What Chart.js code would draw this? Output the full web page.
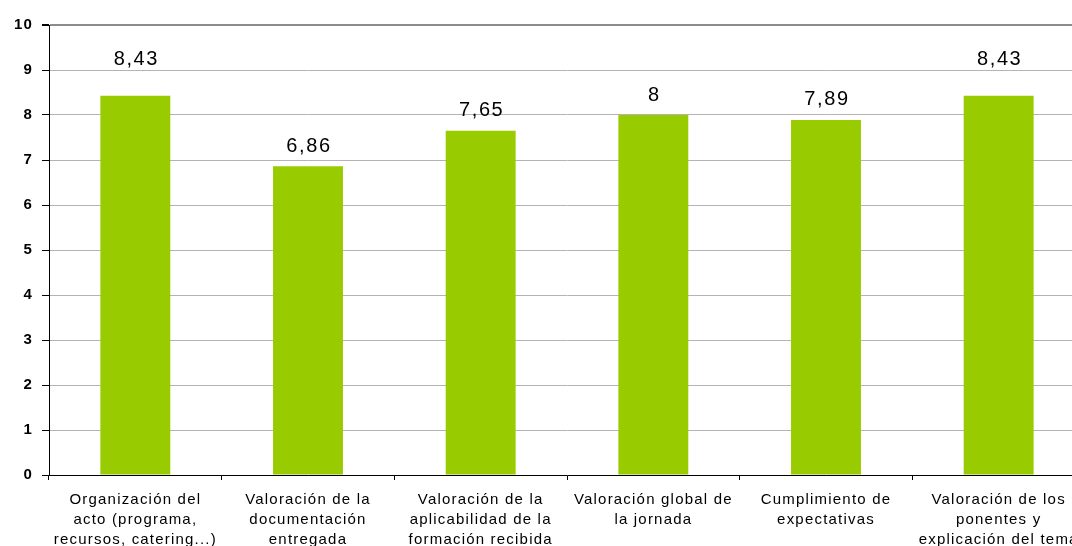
<!DOCTYPE html>
<html lang="es">
<head>
<meta charset="UTF-8">
<title>Valoración de la jornada</title>
<script src="https://cdn.jsdelivr.net/npm/chart.js"></script>
<style>
    html, body { margin: 0; padding: 0; background: #fff; overflow: hidden; }
    #wrap { width: 1086px; height: 546px; }
</style>
</head>
<body>
<div id="wrap"><canvas id="grafico" width="1086" height="546"></canvas></div>
<script>
    const categorias = [
        ['Organización del', 'acto (programa,', 'recursos, catering...)'],
        ['Valoración de la', 'documentación', 'entregada'],
        ['Valoración de la', 'aplicabilidad de la', 'formación recibida'],
        ['Valoración global de', 'la jornada'],
        ['Cumplimiento de', 'expectativas'],
        ['Valoración de los', 'ponentes y', 'explicación del tema']
    ];
    const valores = [8.43, 6.86, 7.65, 8, 7.89, 8.43];
    const ticksY = [0, 1, 2, 3, 4, 5, 6, 7, 8, 9, 10];

    // el texto del original sale algo ensanchado: espaciado entre letras
    const espaciado = {
        id: 'espaciado',
        beforeDraw(chart) {
            chart.ctx.letterSpacing = '1.2px';
        }
    };

    // etiquetas de valor encima de cada barra (coma decimal)
    const etiquetasBarras = {
        id: 'etiquetasBarras',
        afterDatasetsDraw(chart, args, opts) {
            const ctx = chart.ctx;
            const meta = chart.getDatasetMeta(0);
            ctx.save();
            ctx.letterSpacing = '1.6px';
            ctx.font = '20px "Liberation Sans", Arial, sans-serif';
            ctx.fillStyle = '#000';
            ctx.textAlign = 'center';
            ctx.textBaseline = 'middle';
            meta.data.forEach((bar, i) => {
                const txt = String(valores[i]).replace('.', ',');
                const lift = opts.offset + (opts.extra[i] || 0);
                ctx.fillText(txt, bar.x + 1, bar.y - lift);
            });
            ctx.restore();
        }
    };

    new Chart(document.getElementById('grafico'), {
        type: 'bar',
        data: {
            labels: categorias,
            datasets: [{
                data: valores,
                backgroundColor: '#99cc00',
                categoryPercentage: 1,
                barPercentage: 0.405
            }]
        },
        options: {
            responsive: false,
            animation: false,
            layout: { padding: { top: 25, right: 1, left: 0, bottom: 0 } },
            plugins: {
                legend: { display: false },
                tooltip: { enabled: false },
                etiquetasBarras: { offset: 20, extra: { 0: 16, 5: 16 } }
            },
            scales: {
                x: {
                    afterFit: s => { s.height = 71; },
                    grid: { drawOnChartArea: false, drawTicks: true, tickLength: 5, color: '#000', offset: true },
                    border: { color: '#000', width: 1 },
                    ticks: {
                        color: '#000',
                        padding: 10,
                        maxRotation: 0,
                        autoSkip: false,
                        font: { family: '"Liberation Sans", Arial, sans-serif', size: 15, lineHeight: '20px' }
                    }
                },
                y: {
                    min: 0,
                    max: 10,
                    afterFit: s => { s.width = 49; },
                    afterBuildTicks: s => { s.ticks = ticksY.map(v => ({ value: v })); },
                    grid: {
                        color: c => c.tick && c.tick.value === 10 ? '#8c8c8c' : '#b4b4b4',
                        lineWidth: c => c.tick && c.tick.value === 10 ? 2 : 1,
                        tickLength: 7,
                        tickColor: '#000'
                    },
                    border: { color: '#000', width: 1 },
                    ticks: {
                        color: '#000',
                        padding: 9,
                        font: { family: '"Liberation Sans", Arial, sans-serif', size: 15, weight: 'bold' }
                    }
                }
            }
        },
        plugins: [espaciado, etiquetasBarras]
    });
</script>
</body>
</html>
